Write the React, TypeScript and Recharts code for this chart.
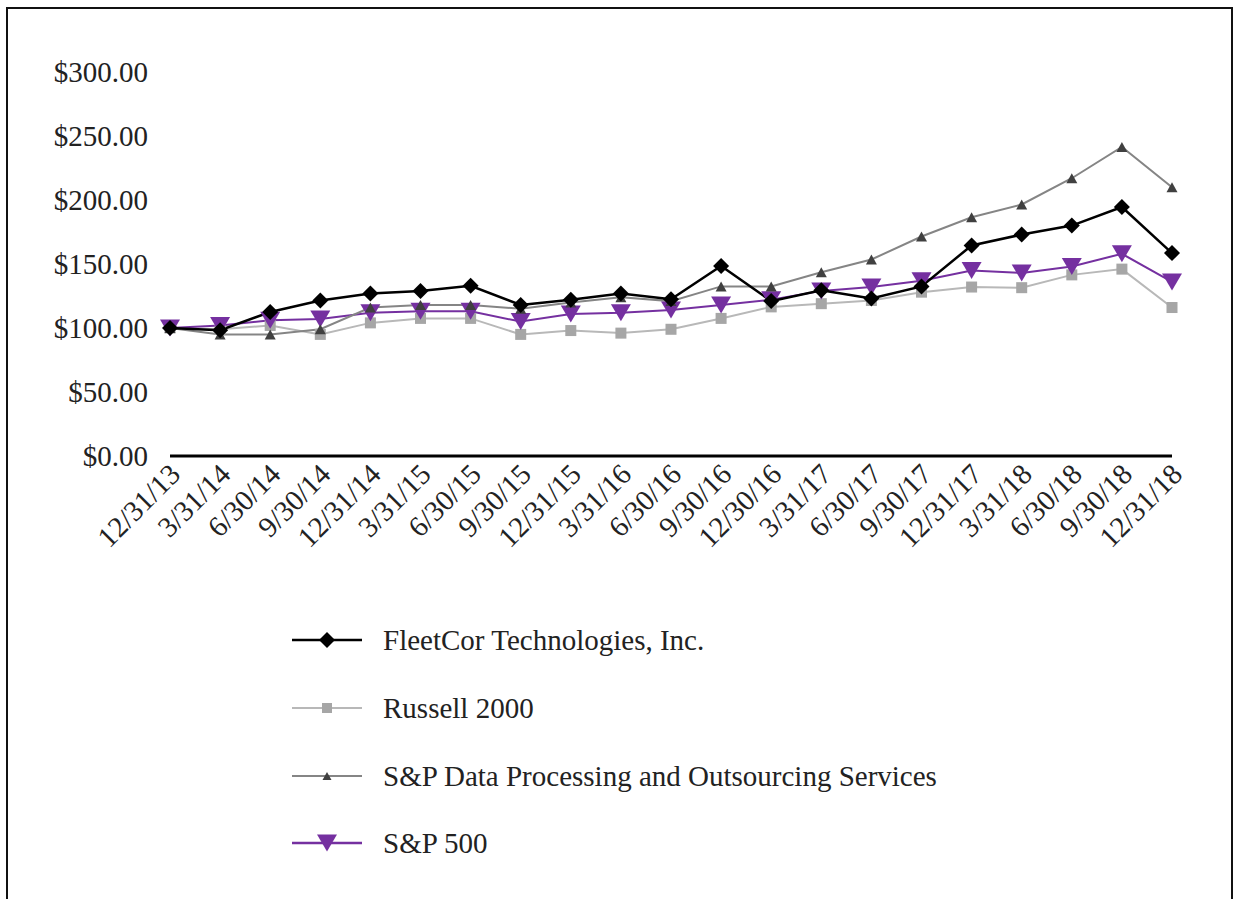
import React from 'react';
import { LineChart, Line, XAxis, YAxis } from 'recharts';

const categories = [
  '12/31/13', '3/31/14', '6/30/14', '9/30/14', '12/31/14', '3/31/15', '6/30/15',
  '9/30/15', '12/31/15', '3/31/16', '6/30/16', '9/30/16', '12/30/16', '3/31/17',
  '6/30/17', '9/30/17', '12/31/17', '3/31/18', '6/30/18', '9/30/18', '12/31/18',
];

const fleetcor = [100, 98.3, 112.5, 121.5, 127, 129, 133, 118, 122, 127, 122.5, 148.5, 121, 129.5, 123, 132.5, 164.5, 173, 180, 194.5, 158.5];
const russell2000 = [100, 99, 102, 95, 104, 107.5, 107.5, 95, 98, 96, 99, 107.5, 116.5, 119, 121.5, 128, 132, 131.5, 141.5, 146, 116];
const dataProcessing = [100, 95, 95, 99, 116, 118, 118, 115, 120, 124, 121, 132.5, 132.5, 143.5, 153.5, 171.5, 186.5, 196.5, 217, 241.5, 210];
const sp500 = [100, 102, 106, 107, 112, 113, 113, 105, 111, 112, 114, 118, 122, 129, 132, 137, 145, 143, 148, 158, 136];

const yTicks = [0, 50, 100, 150, 200, 250, 300];

const seriesNames = {
  fleetcor: 'FleetCor Technologies, Inc.',
  russell: 'Russell 2000',
  dp: 'S&P Data Processing and Outsourcing Services',
  sp: 'S&P 500',
};

const data = categories.map((c, i) => ({
  date: c,
  fleetcor: fleetcor[i],
  russell: russell2000[i],
  dp: dataProcessing[i],
  sp: sp500[i],
}));

const FONT = '"Liberation Serif", "Times New Roman", Times, serif';
const PURPLE = '#7530a0';
const FS = 29;

const diamondShape = (cx: number, cy: number, r: number, fill: string, key?: string) => (
  <polygon key={key} points={`${cx},${cy - r} ${cx + r},${cy} ${cx},${cy + r} ${cx - r},${cy}`} fill={fill} />
);
const squareShape = (cx: number, cy: number, s: number, fill: string, key?: string) => (
  <rect key={key} x={cx - s / 2} y={cy - s / 2} width={s} height={s} fill={fill} />
);
const upTriShape = (cx: number, cy: number, w: number, h: number, fill: string, key?: string) => (
  <polygon key={key} points={`${cx},${cy - h / 2} ${cx + w / 2},${cy + h / 2} ${cx - w / 2},${cy + h / 2}`} fill={fill} />
);
const downTriShape = (cx: number, cy: number, w: number, h: number, fill: string, key?: string) => (
  <polygon key={key} points={`${cx - w / 2},${cy - h / 2} ${cx + w / 2},${cy - h / 2} ${cx},${cy + h / 2}`} fill={fill} />
);

const DiamondDot = (p: any) => diamondShape(p.cx, p.cy, 8, '#000', `fd-${p.index}`);
const SquareDot = (p: any) => squareShape(p.cx, p.cy, 11, '#a6a6a6', `rd-${p.index}`);
const UpTriDot = (p: any) => upTriShape(p.cx, p.cy, 11, 10, '#404040', `dd-${p.index}`);
const DownTriDot = (p: any) => downTriShape(p.cx, p.cy, 20, 17, PURPLE, `sd-${p.index}`);

const XTick = (props: any) => {
  const { x, y, payload } = props;
  const ax = x + 5;
  const ay = y + 13;
  return (
    <text
      x={ax}
      y={ay}
      transform={`rotate(-45, ${ax}, ${ay})`}
      textAnchor="end"
      dominantBaseline="central"
      fontFamily={FONT}
      fontSize={FS}
      fill="#222"
    >
      {payload.value}
    </text>
  );
};

const YTick = (props: any) => {
  const { x, y, payload } = props;
  return (
    <text x={x} y={y} textAnchor="end" dominantBaseline="central" fontFamily={FONT} fontSize={FS} fill="#222">
      {`$${Number(payload.value).toFixed(2)}`}
    </text>
  );
};

const legendItems = [
  { name: seriesNames.fleetcor, color: '#000', width: 2.5, marker: (cx: number, cy: number) => diamondShape(cx, cy, 8, '#000') },
  { name: seriesNames.russell, color: '#b8b8b8', width: 2, marker: (cx: number, cy: number) => squareShape(cx, cy, 10, '#a6a6a6') },
  { name: seriesNames.dp, color: '#858585', width: 2, marker: (cx: number, cy: number) => upTriShape(cx, cy, 9, 8, '#404040') },
  { name: seriesNames.sp, color: PURPLE, width: 2.5, marker: (cx: number, cy: number) => downTriShape(cx, cy, 20, 17, PURPLE) },
];
const legendRowsY = [640, 708, 776, 843];

export default function App() {
  return (
    <div style={{ position: 'absolute', left: 0, top: 0, width: 1237, height: 899, background: '#fff', overflow: 'hidden' }}>
      <div
        style={{
          position: 'absolute',
          left: 6,
          top: 7,
          width: 1227,
          height: 892,
          borderTop: '2px solid #111',
          borderLeft: '2px solid #111',
          borderRight: '2px solid #111',
          boxSizing: 'border-box',
        }}
      />
      <div style={{ position: 'absolute', left: 0, top: 0 }}>
        <LineChart width={1237} height={560} data={data} margin={{ top: 72, right: 65, left: 0, bottom: 0 }}>
          <XAxis
            dataKey="date"
            interval={0}
            height={104}
            tickLine={false}
            tickSize={0}
            tickMargin={0}
            axisLine={{ stroke: '#000', strokeWidth: 3 }}
            tick={<XTick />}
          />
          <YAxis
            width={170}
            domain={[0, 300]}
            ticks={yTicks}
            tickLine={false}
            axisLine={false}
            tickSize={0}
            tickMargin={22}
            tick={<YTick />}
          />
          <Line dataKey="russell" name={seriesNames.russell} stroke="#b8b8b8" strokeWidth={2} dot={SquareDot} activeDot={false} isAnimationActive={false} />
          <Line dataKey="sp" name={seriesNames.sp} stroke={PURPLE} strokeWidth={2} dot={DownTriDot} activeDot={false} isAnimationActive={false} />
          <Line dataKey="dp" name={seriesNames.dp} stroke="#858585" strokeWidth={2} dot={UpTriDot} activeDot={false} isAnimationActive={false} />
          <Line dataKey="fleetcor" name={seriesNames.fleetcor} stroke="#000" strokeWidth={2.5} dot={DiamondDot} activeDot={false} isAnimationActive={false} />
        </LineChart>
      </div>
      {legendItems.map((item, i) => (
        <div key={item.name} style={{ position: 'absolute', left: 290, top: legendRowsY[i] - 20, height: 40, display: 'flex', alignItems: 'center' }}>
          <svg width={74} height={40} style={{ display: 'block' }}>
            <line x1={2} y1={20} x2={72} y2={20} stroke={item.color} strokeWidth={item.width} />
            {item.marker(37, 20)}
          </svg>
          <span style={{ marginLeft: 19, fontFamily: FONT, fontSize: FS, color: '#222', whiteSpace: 'nowrap', lineHeight: '40px' }}>
            {item.name}
          </span>
        </div>
      ))}
    </div>
  );
}
